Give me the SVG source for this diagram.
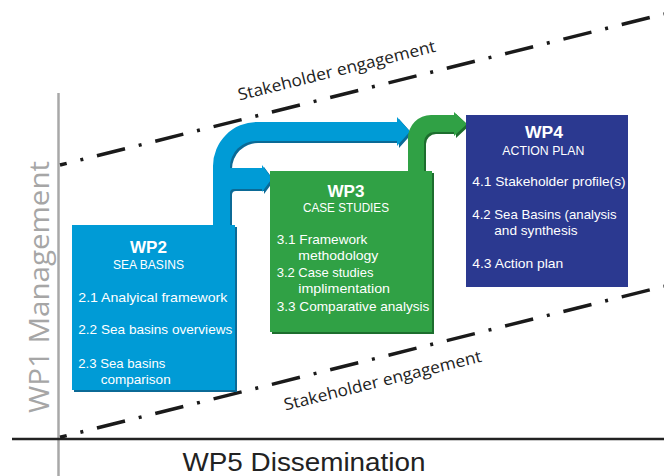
<svg xmlns="http://www.w3.org/2000/svg" width="664" height="476" viewBox="0 0 664 476">
<style>
.t{font-family:"Liberation Sans","Open Sans",sans-serif;fill:#fff}
.h{font-size:16.5px;font-weight:bold;text-anchor:middle}
.s{font-size:12.5px;text-anchor:middle}
.i{font-size:13.5px}
.dd{fill:none;stroke:#1a1a1a;stroke-width:3.5;stroke-dasharray:28.9 14.1 3 14.1;stroke-dashoffset:22}
.se{font-family:"Open Sans","Liberation Sans",sans-serif;font-size:16.5px;fill:#222;text-anchor:middle}
</style>
<rect width="664" height="476" fill="#fff"/>
<line x1="58.5" y1="93" x2="58.5" y2="476" stroke="#a8a8a8" stroke-width="2.5"/>
<line x1="12" y1="439" x2="664" y2="439" stroke="#222" stroke-width="2.7"/>
<line class="dd" x1="60" y1="165" x2="664" y2="14"/>
<line class="dd" x1="60" y1="437.3" x2="664" y2="286.3"/>
<text class="se" x="338" y="76" transform="rotate(-14 338 76)" textLength="203" lengthAdjust="spacingAndGlyphs">Stakeholder engagement</text>
<text class="se" x="384" y="386" transform="rotate(-14 384 386)" textLength="203" lengthAdjust="spacingAndGlyphs">Stakeholder engagement</text>
<text x="49" y="287" transform="rotate(-90 49 287)" text-anchor="middle" font-family="Open Sans, Liberation Sans, sans-serif" font-size="27" fill="#a6a6a6" textLength="252" lengthAdjust="spacingAndGlyphs">WP1 Management</text>
<text x="304" y="470.5" text-anchor="middle" font-family="Liberation Sans, Open Sans, sans-serif" font-size="26" fill="#222" textLength="243" lengthAdjust="spacingAndGlyphs">WP5 Dissemination</text>
<g id="connectors">
<path transform="translate(2,2)" fill="#0b6a96" d="M213,226 L213,166 A44,44 0 0 1 257,122 L397,122 L397,117 L410,131.5 L397,146 L397,141 L256,141 A26,26 0 0 0 230,167 L230,168 L262,168 L262,165 L272,178.5 L262,192 L262,189 L234,189 A4,4 0 0 0 230,193 L230,226 Z"/>
<path fill="#009bd6" d="M213,226 L213,166 A44,44 0 0 1 257,122 L397,122 L397,117 L410,131.5 L397,146 L397,141 L256,141 A26,26 0 0 0 230,167 L230,168 L262,168 L262,165 L272,178.5 L262,192 L262,189 L234,189 A4,4 0 0 0 230,193 L230,226 Z"/>
<path transform="translate(2,2)" fill="#1d6e2e" d="M408,172 L408,138 A23,23 0 0 1 431,115 L454,115 L454,112 L467,124 L454,136 L454,132 L434,132 A10,10 0 0 0 424,142 L424,172 Z"/>
<path fill="#30a145" d="M408,172 L408,138 A23,23 0 0 1 431,115 L454,115 L454,112 L467,124 L454,136 L454,132 L434,132 A10,10 0 0 0 424,142 L424,172 Z"/>
</g>
<g id="wp2">
<rect x="74" y="227" width="163" height="165" fill="#0b6a96"/>
<rect x="72" y="225" width="163" height="165" fill="#009bd6"/>
<text class="t h" x="148.5" y="252.7" textLength="37" lengthAdjust="spacingAndGlyphs">WP2</text>
<text class="t s" x="148.5" y="269.3" textLength="71" lengthAdjust="spacingAndGlyphs">SEA BASINS</text>
<text class="t i" x="78.3" y="301.7" textLength="149" lengthAdjust="spacingAndGlyphs">2.1 Analyical framework</text>
<text class="t i" x="78.3" y="334" textLength="154" lengthAdjust="spacingAndGlyphs">2.2 Sea basins overviews</text>
<text class="t i" x="78.3" y="367.7" textLength="87" lengthAdjust="spacingAndGlyphs">2.3 Sea basins</text>
<text class="t i" x="100.7" y="384.3" textLength="70" lengthAdjust="spacingAndGlyphs">comparison</text>
</g>
<g id="wp3">
<rect x="272" y="173" width="162" height="161" fill="#1d6e2e"/>
<rect x="270" y="171" width="162" height="161" fill="#30a145"/>
<text class="t h" x="346" y="196.7" textLength="37" lengthAdjust="spacingAndGlyphs">WP3</text>
<text class="t s" x="346" y="211.7" textLength="86" lengthAdjust="spacingAndGlyphs">CASE STUDIES</text>
<text class="t i" x="276.7" y="244" textLength="90.7" lengthAdjust="spacingAndGlyphs">3.1 Framework</text>
<text class="t i" x="298.3" y="260" textLength="80" lengthAdjust="spacingAndGlyphs">methodology</text>
<text class="t i" x="276.7" y="276.7" textLength="96.7" lengthAdjust="spacingAndGlyphs">3.2 Case studies</text>
<text class="t i" x="298.3" y="293.3" textLength="91.7" lengthAdjust="spacingAndGlyphs">implimentation</text>
<text class="t i" x="276.7" y="310.7" textLength="152.7" lengthAdjust="spacingAndGlyphs">3.3 Comparative analysis</text>
</g>
<g id="wp4">
<rect x="466" y="115" width="162" height="172" fill="#2b3990"/>
<text class="t h" x="544" y="138.3" textLength="38" lengthAdjust="spacingAndGlyphs">WP4</text>
<text class="t s" x="543.3" y="155" textLength="82" lengthAdjust="spacingAndGlyphs">ACTION PLAN</text>
<text class="t i" x="472.3" y="186" textLength="153.3" lengthAdjust="spacingAndGlyphs">4.1 Stakeholder profile(s)</text>
<text class="t i" x="472.3" y="219" textLength="144.3" lengthAdjust="spacingAndGlyphs">4.2 Sea Basins (analysis</text>
<text class="t i" x="494.3" y="235" textLength="83.3" lengthAdjust="spacingAndGlyphs">and synthesis</text>
<text class="t i" x="472.3" y="268.3" textLength="91" lengthAdjust="spacingAndGlyphs">4.3 Action plan</text>
</g>
</svg>
